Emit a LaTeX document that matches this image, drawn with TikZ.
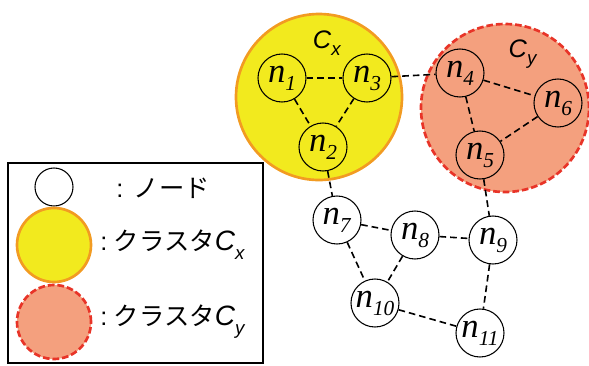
\documentclass[tikz,border=0pt]{standalone}
\usepackage{fontspec}
\setmainfont{Liberation Serif}
\setsansfont{Liberation Sans}
\newfontfamily\jpfont{Noto Sans CJK JP}
\usetikzlibrary{positioning}
\definecolor{clYellow}{HTML}{F2EA1E}
\definecolor{clOrange}{HTML}{F29B22}
\definecolor{clSalmon}{HTML}{F4A07E}
\definecolor{clRed}{HTML}{E83428}
\newcommand{\nlab}[1]{\textit{n}\raisebox{-0.5ex}{\fontsize{16}{16}\selectfont\textit{#1}}}
\newcommand{\clab}[1]{\textsf{\textit{C}}\raisebox{-0.6ex}{\fontsize{14}{14}\selectfont\textsf{\textit{#1}}}}

\begin{document}
\begin{tikzpicture}[x=0.75pt, y=-0.75pt,
  nd/.style={draw, circle, line width=0.8pt, minimum size=36pt, inner sep=0pt,
             font=\fontsize{26}{26}\selectfont},
  clx/.style={circle, fill=clYellow, draw=clOrange, line width=2pt, inner sep=0pt},
  cly/.style={circle, fill=clSalmon, draw=clRed, line width=2pt, dashed,
              dash pattern=on 5pt off 2.2pt, inner sep=0pt},
  lnk/.style={line width=1.2pt, dash pattern=on 5pt off 3pt},
  lgtxt/.style={anchor=west, inner sep=0pt, font=\sffamily\fontsize{19}{19}\selectfont},
]
\useasboundingbox (0,0) rectangle (589,365);
% clusters
\node[clx, minimum size=124.5pt] (cx) at (319,97) {};
\node[cly, minimum size=126pt] (cy) at (505,108) {};
\node[font=\fontsize{19}{19}\selectfont] (cxlab) at (327,43) {\clab{x}};
\node[font=\fontsize{19}{19}\selectfont] (cylab) at (523,54) {\clab{y}};

% nodes
\node[nd] (n1) at (282,78) {\nlab{1}};
\node[nd] (n3) at (367,78) {\nlab{3}};
\node[nd] (n2) at (323,147) {\nlab{2}};
\node[nd] (n4) at (460,73) {\nlab{4}};
\node[nd] (n6) at (558,103) {\nlab{6}};
\node[nd] (n5) at (480,155) {\nlab{5}};
\node[nd] (n7) at (337,220) {\nlab{7}};
\node[nd] (n8) at (415,235) {\nlab{8}};
\node[nd] (n9) at (493,240) {\nlab{9}};
\node[nd] (n10) at (375,303) {\nlab{10}};
\node[nd] (n11) at (480,333) {\nlab{11}};

% links
\foreach \a/\b in {n1/n3, n1/n2, n3/n2, n3/n4, n4/n6, n4/n5, n6/n5, n2/n7,
                   n5/n9, n7/n8, n8/n9, n7/n10, n8/n10, n9/n11, n10/n11}
  \draw[lnk] (\a) -- (\b);

% legend
\draw[line width=1.6pt] (8,163) rectangle (263,363);
\node[nd, minimum size=28.5pt] (lgnode) at (54,187) {};
\node[clx, minimum size=55.5pt] (lgcx) at (54,245) {};
\node[cly, minimum size=55.5pt] (lgcy) at (54,322) {};
\node[lgtxt] (lgt1) at (116,188) {:\hspace{8pt}{\jpfont ノード}};
\node[lgtxt] (lgt2) at (100,245) {:\hspace{5pt}{\jpfont クラスタ}\fontsize{21}{21}\selectfont\clab{x}};
\node[lgtxt] (lgt3) at (100,322) {:\hspace{5pt}{\jpfont クラスタ}\fontsize{21}{21}\selectfont\clab{y}};
\end{tikzpicture}
\end{document}
